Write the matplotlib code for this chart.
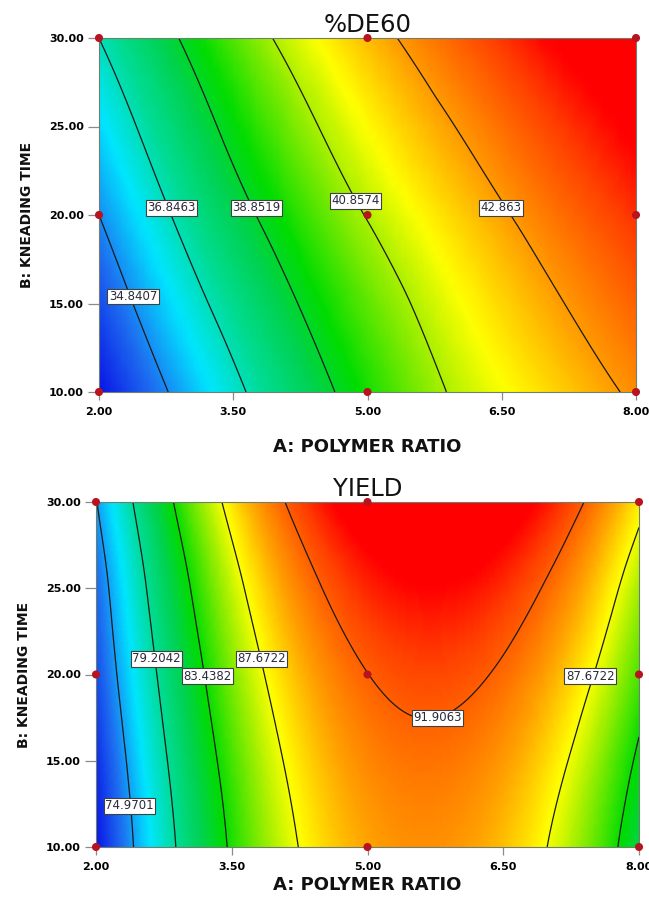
import numpy as np
import matplotlib
matplotlib.use("Agg")
import matplotlib.pyplot as plt
import matplotlib.tri as mtri
from matplotlib.colors import LinearSegmentedColormap, Normalize
from matplotlib import font_manager

# ---------------- data ----------------
# %DE60 response surface
de_polymer_ratio = [2.0, 3.0, 4.0, 5.0, 6.0, 7.0, 8.0]
de_kneading_time = [10.0, 20.0, 30.0]
de60_b10 = [32.90, 35.38, 37.61, 39.49, 41.01, 42.04, 43.03]
de60_b20 = [34.84, 37.30, 39.30, 40.91, 42.17, 43.31, 44.31]
de60_b30 = [36.85, 39.08, 40.96, 42.43, 43.67, 44.81, 45.74]
de60_levels = [34.8407, 36.8463, 38.8519, 40.8574, 42.863]

# YIELD response surface
y_polymer_ratio = [2.0, 2.5, 3.0, 3.5, 4.0, 4.5, 5.0, 5.5, 6.0, 6.5, 7.0, 7.5, 8.0]
y_kneading_time = [10.0, 15.0, 20.0, 25.0, 30.0]
yield_b10 = [70.67, 75.80, 80.16, 83.77, 86.60, 88.68, 89.99, 90.54, 90.33, 89.35, 87.61, 85.11, 81.84]
yield_b15 = [71.51, 76.59, 80.93, 84.51, 87.35, 89.43, 90.77, 91.35, 91.19, 90.27, 88.61, 86.19, 83.03]
yield_b20 = [72.56, 77.62, 81.95, 85.54, 88.39, 90.50, 91.88, 92.51, 92.41, 91.57, 89.99, 87.67, 84.61]
yield_b25 = [73.46, 78.65, 83.09, 86.78, 89.72, 91.91, 93.35, 94.04, 93.98, 93.17, 91.61, 89.30, 86.24]
yield_b30 = [74.85, 80.14, 84.66, 88.43, 91.45, 93.70, 95.20, 95.94, 95.93, 95.16, 93.63, 91.34, 88.30]
yield_levels = [74.9701, 79.2042, 83.4382, 87.6722, 91.9063]

# design points (3x3 factorial)
design_A = [2.0, 2.0, 2.0, 5.0, 5.0, 5.0, 8.0, 8.0, 8.0]
design_B = [10.0, 20.0, 30.0, 10.0, 20.0, 30.0, 10.0, 20.0, 30.0]

x_ticks = [2.0, 3.5, 5.0, 6.5, 8.0]
x_tick_labels = ["2.00", "3.50", "5.00", "6.50", "8.00"]
y_ticks = [10.0, 15.0, 20.0, 25.0, 30.0]
y_tick_labels = ["10.00", "15.00", "20.00", "25.00", "30.00"]

# ---------------- style ----------------
cmap = LinearSegmentedColormap.from_list(
    "designexpert",
    [(0.00, "#0a14e6"), (0.12, "#1e6ef0"), (0.24, "#00e6ff"),
     (0.34, "#00dc96"), (0.43, "#00d250"), (0.50, "#00dc00"),
     (0.62, "#aaf000"), (0.68, "#ffff00"), (0.77, "#ffa000"),
     (0.88, "#ff3c00"), (0.93, "#ff0000"), (1.00, "#ff0000")])

names = {f.name for f in font_manager.fontManager.ttflist}
if "Liberation Sans Narrow" in names:
    ylab_family, ylab_size = "Liberation Sans Narrow", 13.5
else:
    ylab_family, ylab_size = "DejaVu Sans", 10

fig = plt.figure(figsize=(6.49, 8.99), dpi=100)
ax1 = fig.add_axes([99 / 649, 1 - 392 / 899, (636 - 99) / 649, (392 - 38) / 899])
ax2 = fig.add_axes([96 / 649, 1 - 847 / 899, (639 - 96) / 649, (847 - 502) / 899])


def draw_panel(ax, xs, ys, rows, levels, title, label_pos, xlabelpad):
    X, Y = np.meshgrid(xs, ys)
    Z = np.array(rows, dtype=float)
    tri = mtri.Triangulation(X.ravel(), Y.ravel())
    interp = mtri.CubicTriInterpolator(tri, Z.ravel(), kind="min_E")
    refiner = mtri.UniformTriRefiner(tri)
    tri_f, z_f = refiner.refine_field(Z.ravel(), triinterpolator=interp, subdiv=4)
    norm = Normalize(vmin=Z.min(), vmax=Z.max())
    ax.tripcolor(tri_f, z_f, shading="gouraud", cmap=cmap, norm=norm)
    ax.tricontour(tri_f, z_f, levels=levels, colors="#1a1a1a", linewidths=0.9)
    for lvl, (px, py) in label_pos:
        ax.text(px, py, f"{lvl:g}", fontsize=8.5, color="#2a2a3a",
                ha="center", va="center", zorder=6,
                bbox=dict(boxstyle="square,pad=0.12", fc="white",
                          ec="#404040", lw=0.8))
    ax.scatter(design_A, design_B, s=34, color="#b81420", zorder=7,
               clip_on=False, edgecolors="none")
    ax.set_xlim(2, 8)
    ax.set_ylim(10, 30)
    ax.set_xticks(x_ticks)
    ax.set_xticklabels(x_tick_labels, fontweight="bold", fontsize=8)
    ax.set_yticks(y_ticks)
    ax.set_yticklabels(y_tick_labels, fontweight="bold", fontsize=8)
    ax.tick_params(axis="x", direction="out", length=6, width=0.9,
                   color="#8a8a8a", pad=5)
    ax.tick_params(axis="y", direction="out", length=8, width=0.9,
                   color="#8a8a8a", pad=3)
    for s in ax.spines.values():
        s.set_color("#6f7f6f")
        s.set_linewidth(0.8)
    ax.set_title(title, fontsize=17.5, pad=4, color="#111111")
    ax.set_xlabel("A: POLYMER RATIO", fontsize=13, fontweight="bold",
                  labelpad=xlabelpad, color="#111111")
    ax.set_ylabel("B: KNEADING TIME", fontsize=ylab_size, fontweight="bold",
                  family=ylab_family, labelpad=11, color="#111111")


draw_panel(ax1, de_polymer_ratio, de_kneading_time,
           [de60_b10, de60_b20, de60_b30], de60_levels, "%DE60",
           [(de60_levels[0], (2.38, 15.4)), (de60_levels[1], (2.81, 20.4)),
            (de60_levels[2], (3.76, 20.4)), (de60_levels[3], (4.87, 20.8)),
            (de60_levels[4], (6.49, 20.4))], 15)

draw_panel(ax2, y_polymer_ratio, y_kneading_time,
           [yield_b10, yield_b15, yield_b20, yield_b25, yield_b30],
           yield_levels, "YIELD",
           [(yield_levels[0], (2.37, 12.4)), (yield_levels[1], (2.67, 20.9)),
            (yield_levels[2], (3.23, 19.9)), (yield_levels[3], (3.83, 20.9)),
            (yield_levels[4], (5.77, 17.5)), (yield_levels[3], (7.46, 19.9))], 3)

fig.savefig("out.png", dpi=100)
